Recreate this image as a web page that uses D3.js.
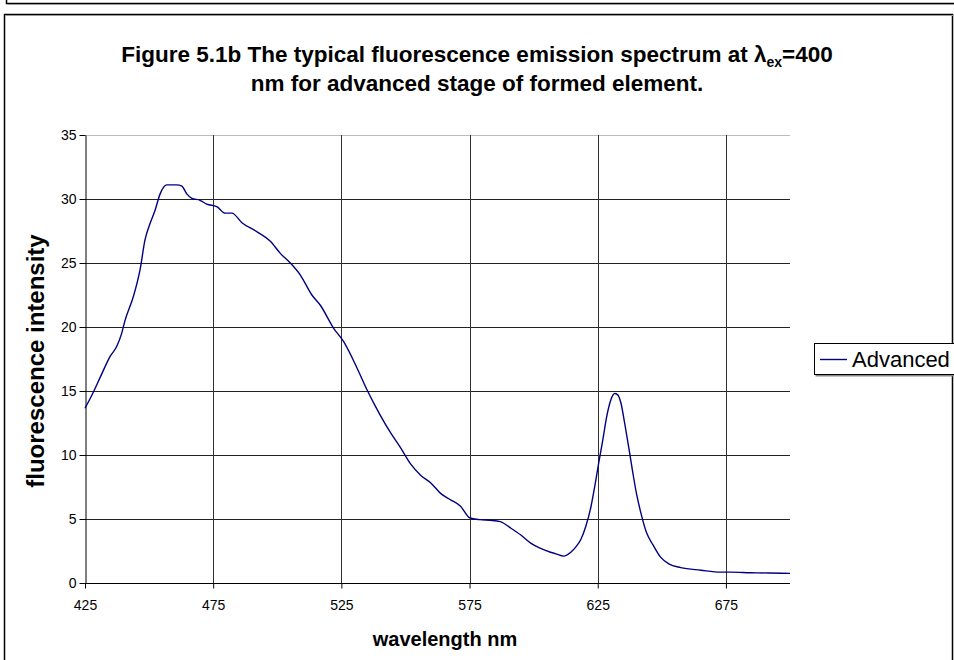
<!DOCTYPE html>
<html>
<head>
<meta charset="utf-8">
<script src="https://cdn.jsdelivr.net/npm/d3@7"></script>
<style>
  html, body { margin: 0; padding: 0; background: #fff; }
  svg { display: block; font-family: "Liberation Sans", Arial, sans-serif; }
</style>
</head>
<body>
<svg id="chart" width="954" height="660"></svg>
<script>
// Emission spectrum, advanced stage (excitation 400 nm)
const wavelength = [425, 428, 431, 434.8, 437.4, 439.3, 440.6, 443.9, 446.5, 448.4, 450.4, 452.3, 454.3,
  456.9, 460.8, 462.8, 464.7, 466.7, 469.9, 472.5, 476.4, 479.7, 482.3, 486.2, 492, 497.3, 501.2,
  505.1, 509, 513.5, 516.8, 522, 525.9, 531.1, 535, 538.3, 540.2, 544, 548, 552, 556, 560, 563.7,
  567.6, 571.5, 575, 579, 583, 587, 591, 595, 599, 602.7, 606.6, 609, 611.7, 614.5, 616.4, 618.4,
  620.3, 622.3, 623.8, 625.4, 627, 628.5, 630.1, 631.6, 632.8, 634, 635.5, 637.1, 638.7, 640.2,
  641.8, 644.1, 646.5, 649.6, 652.7, 657.4, 665.2, 673, 677, 684.8, 692, 700];
const intensity = [13.65, 14.8, 16.1, 17.7, 18.5, 19.5, 20.5, 22.4, 24.5, 26.8, 28.1, 29.1, 30.4,
  31.1, 31.1, 31.0, 30.4, 30.05, 29.9, 29.6, 29.4, 28.9, 28.9, 28.15, 27.45, 26.7, 25.75,
  25.0, 24.06, 22.5, 21.7, 19.9, 18.85, 16.8, 15.1, 13.8, 13.1, 11.8, 10.6, 9.3, 8.4, 7.8, 7.0,
  6.5, 6.0, 5.1, 4.95, 4.9, 4.8, 4.3, 3.75, 3.1, 2.7, 2.4, 2.25, 2.1, 2.4, 2.8, 3.4,
  4.4, 5.9, 7.5, 9.4, 11.2, 13.0, 14.3, 14.8, 14.7, 14.1, 12.5, 10.6, 8.6, 6.9,
  5.5, 3.9, 3.0, 2.0, 1.5, 1.2, 1.0, 0.85, 0.85, 0.8, 0.78, 0.75];
const xTicks = [425, 475, 525, 575, 625, 675];
const yTicks = [0, 5, 10, 15, 20, 25, 30, 35];
const seriesName = "Advanced";

const svg = d3.select("#chart");
const plot = { left: 85, right: 790, top: 135, bottom: 583 };

const x = d3.scaleLinear().domain([425, 700]).range([plot.left, plot.right]);
const y = d3.scaleLinear().domain([0, 35]).range([plot.bottom, plot.top]);

// Outer frames
svg.append("path").attr("d", "M6.5,0 V3.5 H954").attr("fill", "none").attr("stroke", "#000").attr("stroke-width", 1.5);
svg.append("path").attr("d", "M7.5,4.5 H954").attr("fill", "none").attr("stroke", "#999").attr("stroke-width", 1);
svg.append("path").attr("d", "M4.5,660 V14.5 H952.5 V660").attr("fill", "none").attr("stroke", "#000").attr("stroke-width", 1.5);
svg.append("path").attr("d", "M5.5,15.5 H954").attr("fill", "none").attr("stroke", "#999").attr("stroke-width", 1);

// Title
const title = svg.append("text").attr("text-anchor", "middle").attr("font-weight", "bold").style("font-size", "22.5px");
const t1 = title.append("tspan").attr("x", 477).attr("y", 62);
t1.append("tspan").text("Figure 5.1b The typical fluorescence emission spectrum at λ");
t1.append("tspan").style("font-size", "14px").attr("dy", 5).text("ex");
t1.append("tspan").attr("dy", -5).text("=400");
title.append("tspan").attr("x", 477).attr("y", 91).text("nm for advanced stage of formed element.");

// Gridlines
const grid = svg.append("g");
grid.selectAll("line.h").data(yTicks.filter(d => d > 0)).join("line")
  .attr("x1", plot.left).attr("x2", plot.right)
  .attr("y1", d => Math.round(y(d)) + 0.5).attr("y2", d => Math.round(y(d)) + 0.5)
  .attr("stroke", d => d === 35 ? "#bbb" : "#222").attr("stroke-width", 1);
grid.selectAll("line.v").data(xTicks.filter(d => d > 425)).join("line")
  .attr("x1", d => Math.round(x(d)) + 0.5).attr("x2", d => Math.round(x(d)) + 0.5)
  .attr("y1", plot.top).attr("y2", plot.bottom)
  .attr("stroke", "#333").attr("stroke-width", 1);

// Axes
const xAxis = svg.append("g").attr("transform", `translate(0,${plot.bottom + 0.5})`)
  .call(d3.axisBottom(x).tickValues(xTicks).tickSize(5).tickSizeOuter(0).tickFormat(d3.format("d")));
const yAxis = svg.append("g").attr("transform", `translate(${plot.left + 0.5},0)`)
  .call(d3.axisLeft(y).tickValues(yTicks).tickSize(6).tickSizeOuter(0).tickFormat(d3.format("d")));
[xAxis, yAxis].forEach(a => {
  a.attr("font-size", null).attr("font-family", null);
  a.selectAll("text").style("font-size", "14px").attr("fill", "#000");
  a.selectAll("line, path").attr("stroke", "#000");
});
xAxis.select(".domain").attr("d", `M${plot.left},0H${plot.right}`);
xAxis.selectAll("text").attr("y", 26).attr("dy", 0);
yAxis.selectAll("text").attr("x", -9);

// Axis titles
svg.append("text").attr("x", 445).attr("y", 646).attr("text-anchor", "middle")
  .attr("font-weight", "bold").style("font-size", "20px").text("wavelength nm");
svg.append("text").attr("transform", `translate(44,${(plot.top + plot.bottom) / 2 + 2}) rotate(-90)`)
  .attr("text-anchor", "middle").attr("font-weight", "bold").style("font-size", "24px").text("fluorescence intensity");

// Spectrum line
const line = d3.line().x((d, i) => x(wavelength[i])).y(d => y(d)).curve(d3.curveMonotoneX);
svg.append("path").datum(intensity).attr("d", line)
  .attr("fill", "none").attr("stroke", "#000080").attr("stroke-width", 1.4);

// Legend
const lg = svg.append("g").attr("transform", "translate(814,343)");
lg.append("rect").attr("x", 1.5).attr("y", 1.5).attr("width", 150).attr("height", 32).attr("fill", "#888");
lg.append("rect").attr("x", 0.5).attr("y", 0.5).attr("width", 150).attr("height", 31).attr("fill", "#fff").attr("stroke", "#000");
lg.append("line").attr("x1", 6).attr("x2", 33).attr("y1", 16.5).attr("y2", 16.5).attr("stroke", "#000080").attr("stroke-width", 1.4);
lg.append("text").attr("x", 38).attr("y", 24).style("font-size", "22px").text(seriesName);
</script>
</body>
</html>
